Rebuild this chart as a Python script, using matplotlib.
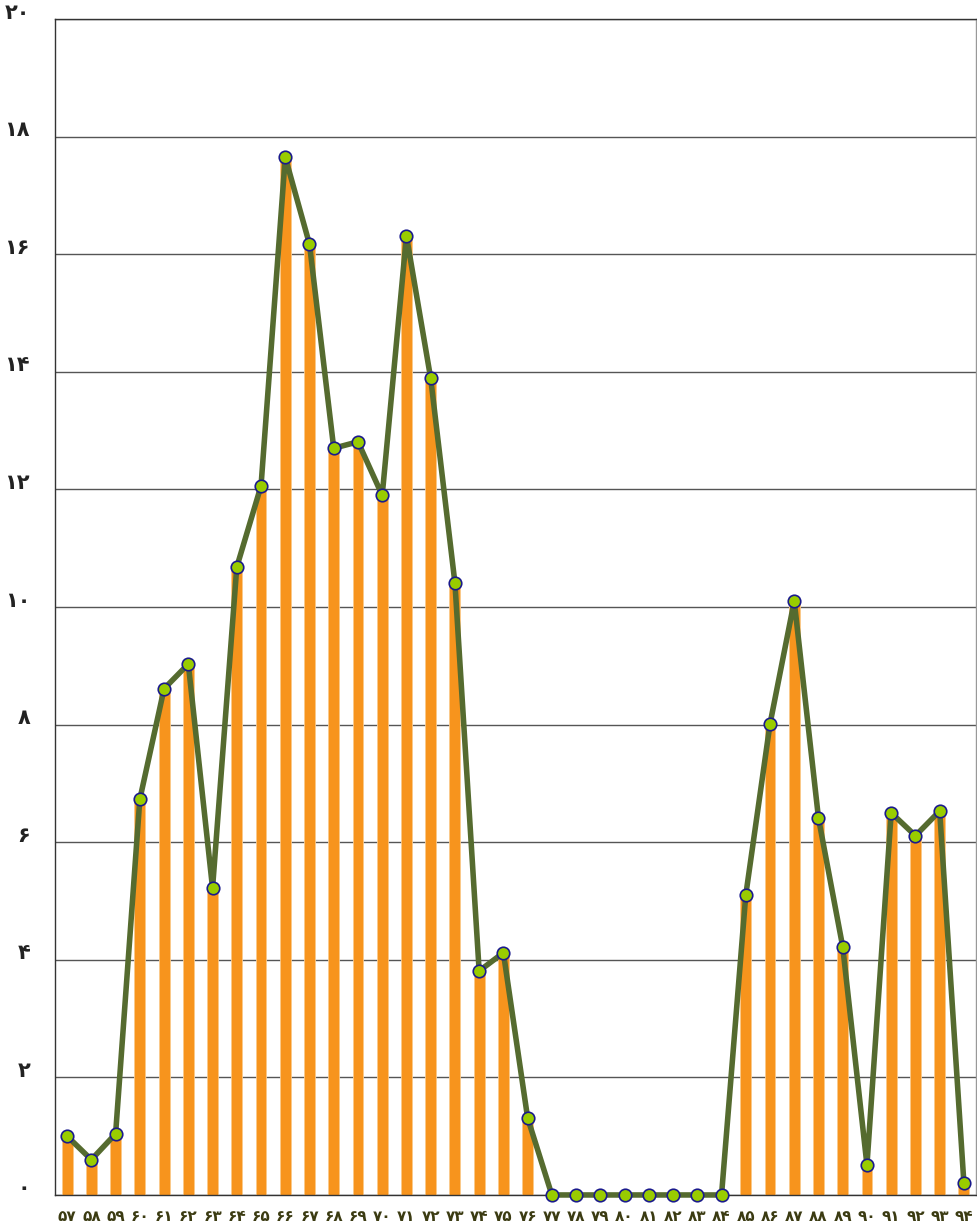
import numpy as np
import matplotlib.pyplot as plt
from matplotlib.transforms import ScaledTranslation

plt.rcParams['font.family'] = ['DejaVu Sans']

# years 57..94 (Persian calendar) and values
years = list(range(57, 95))
values = [1.00, 0.60, 1.04, 6.73, 8.61, 9.03, 5.22, 10.68, 12.06, 17.65,
          16.17, 12.70, 12.81, 11.90, 16.31, 13.89, 10.41, 3.81, 4.12, 1.31,
          0, 0, 0, 0, 0, 0, 0, 0,
          5.10, 8.01, 10.10, 6.41, 4.22, 0.51, 6.50, 6.11, 6.53, 0.20]
yticks = list(range(0, 21, 2))

fa_digits = str.maketrans('0123456789', '۰۱۲۳۴۵۶۷۸۹')


def to_fa(n):
    return str(n).translate(fa_digits)


fig = plt.figure(figsize=(9.77, 12.28), dpi=100)
ax = fig.add_axes([0.0563, 0.0269, 0.9427, 0.9576])

x = np.arange(len(years))
ax.bar(x, values, width=0.45, color='#F7941D', edgecolor='#FBC98A', linewidth=0.6, zorder=2)
ax.plot(x, values, color='#556B2F', linewidth=4, zorder=3,
        marker='o', markersize=9, markerfacecolor='#99CC00',
        markeredgecolor='#1A1A8C', markeredgewidth=1.2, clip_on=False)

ax.set_xlim(-0.5, len(years) - 0.5)
ax.set_ylim(0, 20)
ax.set_yticks(yticks)
ax.set_yticklabels([to_fa(v) for v in yticks], fontsize=15, fontweight='bold', color='#222222')
ax.set_xticks(x)
ax.set_xticklabels([to_fa(v) for v in years], fontsize=11, fontweight='bold', color='#3B3B12')
ax.tick_params(axis='both', length=0)
ax.tick_params(axis='y', pad=18)
ax.tick_params(axis='x', pad=10)
# y labels sit a little above their gridlines
shift = ScaledTranslation(0, 0.065, fig.dpi_scale_trans)
for lbl in ax.get_yticklabels():
    lbl.set_verticalalignment('center')
    lbl.set_transform(lbl.get_transform() + shift)

ax.yaxis.grid(True, color='#555555', linewidth=1.0, zorder=1)
ax.set_axisbelow(True)
for s in ax.spines.values():
    s.set_color('#333333')
    s.set_linewidth(1.0)
ax.spines['right'].set_color('#999999')

fig.savefig('out.png', dpi=100)
